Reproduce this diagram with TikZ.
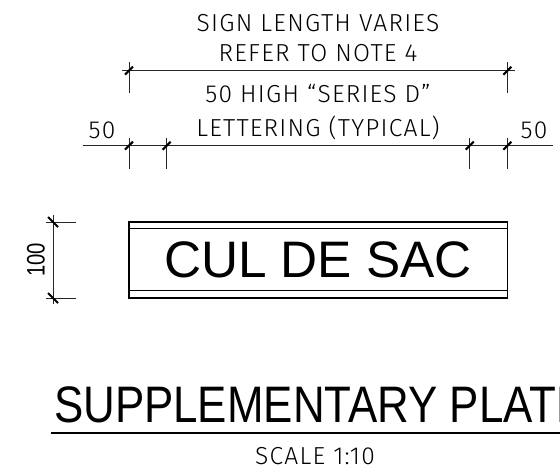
\documentclass[tikz,border=0pt]{standalone}
\usepackage{fontspec}
\setmainfont{Liberation Sans}
\newfontfamily\notefont[LetterSpace=5]{Fira Sans Light}
\usepackage{tikz}
\usetikzlibrary{calc}

\tikzset{
    dimline/.style={line width=1.3pt,black!85},
    sheetline/.style={line width=2pt},
    tickline/.style={line width=3pt},
    notetext/.style={inner sep=0pt,font=\notefont\fontsize{35}{35}\selectfont},
    platetext/.style={inner sep=0pt,font=\fontsize{73}{73}\selectfont}
}
\newcommand{\slashtick}[1]{\draw[tickline] ($(#1)+(-4,4)$) -- ($(#1)+(4,-4)$);}
\newcommand{\backtick}[1]{\draw[tickline] ($(#1)+(-5,-5)$) -- ($(#1)+(5,5)$);}

\begin{document}
\begin{tikzpicture}[x=0.05cm,y=-0.05cm]
    \useasboundingbox (0,0) rectangle (560,470);

    % Sign length dimension
    \coordinate (lenL) at (122,70.7);
    \coordinate (lenR) at (515,70.7);
    \coordinate (lenA) at (129,70.7);
    \coordinate (lenB) at (507.3,70.7);
    \coordinate (lenAend) at (129,93);
    \coordinate (lenBend) at (507.3,93);
    \coordinate (lenAtop) at (129,62);
    \coordinate (lenBtop) at (507.3,62);
    \draw[dimline] (lenL) -- (lenR);
    \draw[dimline] (lenAtop) -- (lenAend);
    \draw[dimline] (lenBtop) -- (lenBend);
    \slashtick{lenA}
    \slashtick{lenB}

    % Lettering dimension
    \coordinate (letL) at (83,145.7);
    \coordinate (letR) at (553,145.7);
    \draw[dimline] (letL) -- (letR);
    \foreach \name/\xpos in {letA/129,letB/166.7,letC/469.7,letD/507.3}{
        \coordinate (\name) at (\xpos,145.7);
        \coordinate (\name top) at (\xpos,138);
        \coordinate (\name end) at (\xpos,169);
        \draw[dimline] (\name top) -- (\name end);
        \slashtick{\name}
    }

    % Notes
    \node[notetext] (noteA) at (318,23.5) {SIGN LENGTH VARIES};
    \node[notetext] (noteB) at (318,53) {REFER TO NOTE 4};
    \node[notetext] (noteC) at (318,94) {50 HIGH “SERIES D”};
    \node[notetext] (noteD) at (318,128) {LETTERING (TYPICAL)};
    \node[notetext] (dimL) at (102,130) {50};
    \node[notetext] (dimR) at (534,130) {50};

    % Sign plate
    \node[draw,sheetline,minimum width=378.3*0.05cm,minimum height=76*0.05cm,inner sep=0pt] (plate) at (318.15,260) {};
    \draw[sheetline] ($(plate.north west)+(0,7)$) -- ($(plate.north east)+(0,7)$);
    \draw[sheetline] ($(plate.south west)+(0,-8)$) -- ($(plate.south east)+(0,-8)$);
    \node[platetext] (name) at (318,259.5) {CUL DE SAC};

    % Height dimension
    \coordinate (highT) at (53,222);
    \coordinate (highB) at (53,298);
    \coordinate (highTtop) at (53,215);
    \coordinate (highBend) at (53,304);
    \coordinate (highTr) at (76,222);
    \coordinate (highBr) at (76,298);
    \coordinate (highTl) at (46,222);
    \coordinate (highBl) at (46,298);
    \draw[dimline] (highTtop) -- (highBend);
    \draw[dimline] (highTl) -- (highTr);
    \draw[dimline] (highBl) -- (highBr);
    \backtick{highT}
    \backtick{highB}
    \node[rotate=90,inner sep=0pt,font=\fontsize{36}{36}\selectfont] (high) at (36,260) {\scalebox{0.8}[1]{100}};

    % Title
    \node[platetext,anchor=base west] (title) at (54,422) {\scalebox{0.855}[1]{SUPPLEMENTARY PLATE}};
    \coordinate (ruleL) at (51,433);
    \coordinate (ruleR) at (560,433);
    \draw[line width=2.8pt] (ruleL) -- (ruleR);
    \node[notetext] (scale) at (315,456) {SCALE 1:10};
\end{tikzpicture}
\end{document}
